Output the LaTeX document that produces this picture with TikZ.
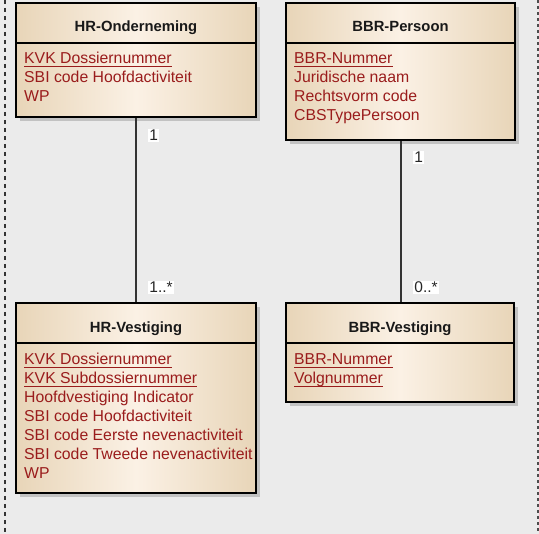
\documentclass[tikz,border=0pt]{standalone}
\usepackage{fontspec}
\setmainfont{Liberation Sans}
\usetikzlibrary{shadows}
\definecolor{bgc}{HTML}{EBEBEB}
\definecolor{tanc}{HTML}{E8D5B8}
\definecolor{creamc}{HTML}{FBF1E5}
\definecolor{attrc}{HTML}{9A1C1C}
\definecolor{linec}{HTML}{333333}
\newcommand\keyattr[1]{\setbox0\hbox{#1}\rlap{\rule[-2.9pt]{\wd0}{1.1pt}}\box0}
\tikzset{
  umlbox/.style={draw=black, line width=1.6pt, left color=tanc, right color=tanc, middle color=creamc,
    general shadow={fill=black!24, shadow xshift=4pt, shadow yshift=-4pt}, inner sep=0pt},
  hdr/.style={font=\fontsize{14.8}{17}\selectfont\bfseries, text=black!90, anchor=base, inner sep=0pt},
  attr/.style={font=\fontsize{15.8}{18}\selectfont, text=attrc, anchor=base west, inner sep=0pt},
  mult/.style={font=\fontsize{15.5}{17}\selectfont, text=black!85, fill=white, anchor=base west, inner sep=1.2pt},
  conn/.style={draw=linec, line width=1.8pt},
  divline/.style={draw=black, line width=1.3pt}
}
\begin{document}
\begin{tikzpicture}[x=1pt,y=-1pt]
\useasboundingbox (0,0) rectangle (539,534);
\fill[bgc] (0,0) rectangle (539,534);
\coordinate (lt) at (5,0); \coordinate (lb) at (5,534);
\coordinate (rt) at (538,0); \coordinate (rb) at (538,534);
\draw[linec, line width=1.3pt, dash pattern=on 4pt off 4pt] (lt) -- (lb);
\draw[black!70, line width=2.2pt, dash pattern=on 3pt off 3pt] (rt) -- (rb);

% boxes
\node[umlbox, minimum width=240pt, minimum height=114pt] (hro) at (136,60) {};
\node[umlbox, minimum width=229pt, minimum height=137pt] (bbp) at (400.5,71.5) {};
\node[umlbox, minimum width=240pt, minimum height=190pt] (hrv) at (136,398) {};
\node[umlbox, minimum width=228pt, minimum height=99pt] (bbv) at (400,352.5) {};

% dividers
\draw[divline] (hro.west |- 0,43) -- (hro.east |- 0,43);
\draw[divline] (bbp.west |- 0,43) -- (bbp.east |- 0,43);
\draw[divline] (hrv.west |- 0,343) -- (hrv.east |- 0,343);
\draw[divline] (bbv.west |- 0,343) -- (bbv.east |- 0,343);

% headers
\node[hdr] (hroh) at (136,32) {HR-Onderneming};
\node[hdr] (bbph) at (400.5,32) {BBR-Persoon};
\node[hdr] (hrvh) at (136,333) {HR-Vestiging};
\node[hdr] (bbvh) at (400,333) {BBR-Vestiging};

% attributes HR-Onderneming
\node[attr] (a1) at (24,64) {\keyattr{KVK Dossiernummer}};
\node[attr] (a2) at (24,83) {SBI code Hoofdactiviteit};
\node[attr] (a3) at (24,102) {WP};

% attributes BBR-Persoon
\node[attr] (b1) at (294,64) {\keyattr{BBR-Nummer}};
\node[attr] (b2) at (294,83) {Juridische naam};
\node[attr] (b3) at (294,102) {Rechtsvorm code};
\node[attr] (b4) at (294,121) {CBSTypePersoon};

% attributes HR-Vestiging
\node[attr] (c1) at (24,365) {\keyattr{KVK Dossiernummer}};
\node[attr] (c2) at (24,384) {\keyattr{KVK Subdossiernummer}};
\node[attr] (c3) at (24,403) {Hoofdvestiging Indicator};
\node[attr] (c4) at (24,422) {SBI code Hoofdactiviteit};
\node[attr] (c5) at (24,441) {SBI code Eerste nevenactiviteit};
\node[attr] (c6) at (24,460) {SBI code Tweede nevenactiviteit};
\node[attr] (c7) at (24,479) {WP};

% attributes BBR-Vestiging
\node[attr] (d1) at (294,365) {\keyattr{BBR-Nummer}};
\node[attr] (d2) at (294,384) {\keyattr{Volgnummer}};

% connectors
\draw[conn] (hro.south) -- (hrv.north);
\draw[conn] ([xshift=0.5pt]bbp.south) -- ([xshift=0.5pt]bbp.south |- bbv.north);

% multiplicities
\node[mult] (m1) at (148,141) {1};
\node[mult] (m2) at (148,293) {1..*};
\node[mult] (m3) at (413,163) {1};
\node[mult] (m4) at (413,293) {0..*};
\end{tikzpicture}
\end{document}
